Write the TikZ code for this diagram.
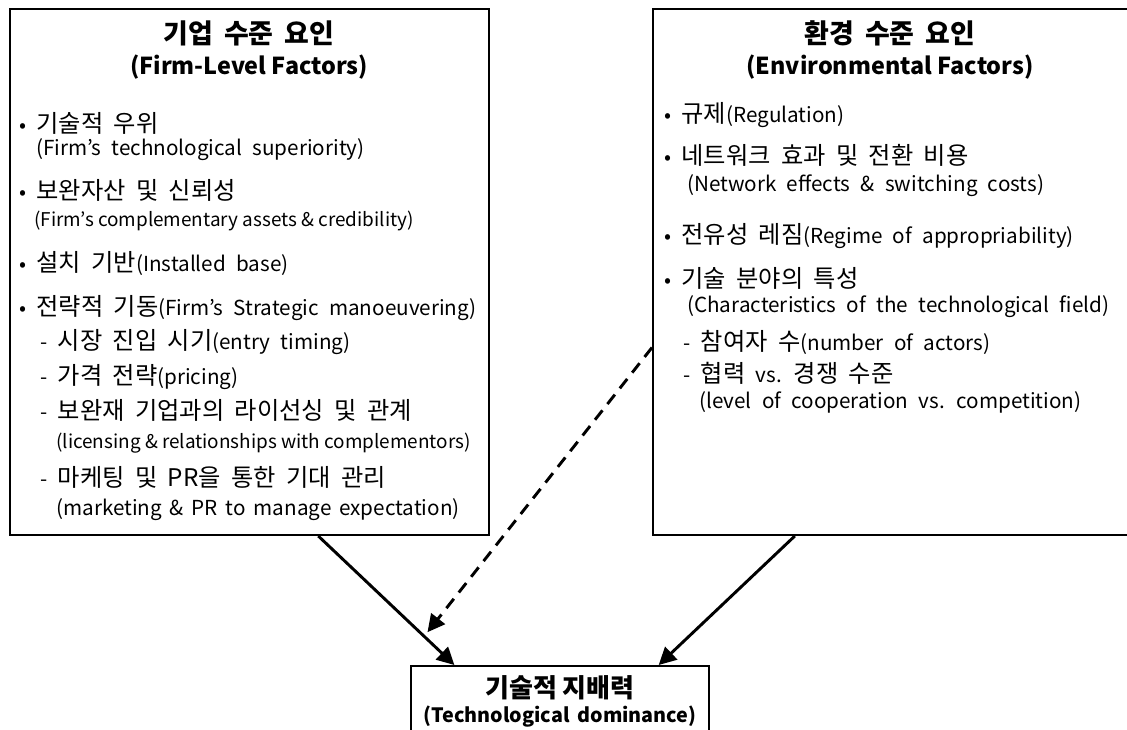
\documentclass[tikz,border=0pt]{standalone}
\usepackage{fontspec}
\setmainfont{Noto Sans CJK KR}
\usetikzlibrary{arrows.meta,fit,calc}
\newcommand\kr[1]{{\fontsize{18.2}{20}\selectfont #1}}
\newcommand\widesp{\spaceskip=0.5em plus 0.1em\relax}
\newcommand\midsp{\spaceskip=0.38em\relax}
\newcommand\ttlsp{\spaceskip=0.4em\relax}
\begin{document}
\begin{tikzpicture}[x=0.75pt,y=-0.75pt,
      box/.style={draw,line width=1.5pt,inner sep=0pt},
      ttlk/.style={inner sep=0pt,font=\fontsize{20.2}{24}\selectfont\bfseries\ttlsp},
      ttl/.style={inner sep=0pt,font=\fontsize{17.5}{21}\selectfont\bfseries},
      itm/.style={anchor=west,inner sep=0pt,font=\fontsize{15.5}{19}\selectfont\widesp},
      nar/.style={anchor=west,inner sep=0pt,font=\fontsize{14.2}{18}\selectfont},
      arr/.style={-{Triangle[length=13pt,width=13pt]},line width=2.2pt}]
    \useasboundingbox (0,0) rectangle (1127,729);
    % boxes
    \node[box,fit={(10,9) (489,535)}] (firm) {};
    \node[box,fit={(653,9) (1140,535)}] (env) {};
    \node[box,fit={(411,666) (709,760)}] (dom) {};
    % firm-level factors
    \node[ttlk] (firmt1) at (249,33) {기업 수준 요인};
    \node[ttl] (firmt2) at (249,67) {(Firm-Level Factors)};
    \node[itm] (f1) at (19,123) {• \kr{기술적 우위}};
    \node[itm] (f1e) at (36,150) {(Firm’s technological superiority)};
    \node[itm] (f2) at (19,190) {• \kr{보완자산 및 신뢰성}};
    \node[nar] (f2e) at (34,221) {(Firm’s complementary assets \& credibility)};
    \node[itm] (f3) at (19,263) {• \kr{설치 기반}(Installed base)};
    \node[itm] (f4) at (19,308) {• \kr{전략적 기동}(Firm’s Strategic manoeuvering)};
    \node[itm] (f4a) at (40,342) {- \kr{시장 진입 시기}(entry timing)};
    \node[itm] (f4b) at (40,377) {- \kr{가격 전략}(pricing)};
    \node[itm] (f4c) at (40,410) {- \kr{보완재 기업과의 라이선싱 및 관계}};
    \node[nar] (f4ce) at (56,443) {(licensing \& relationships with complementors)};
    \node[itm] (f4d) at (40,477) {- \kr{마케팅 및 PR을 통한 기대 관리}};
    \node[itm,font=\fontsize{15.5}{19}\selectfont\midsp] (f4de) at (56,510) {(marketing \& PR to manage expectation)};
    % environmental factors
    \node[ttlk] (envt1) at (890,33) {환경 수준 요인};
    \node[ttl] (envt2) at (890,67) {(Environmental Factors)};
    \node[itm] (e1) at (664,115) {• \kr{규제}(Regulation)};
    \node[itm] (e2) at (664,155) {• \kr{네트워크 효과 및 전환 비용}};
    \node[itm] (e2e) at (687,186) {(Network effects \& switching costs)};
    \node[itm] (e3) at (664,236) {• \kr{전유성 레짐}(Regime of appropriability)};
    \node[itm] (e4) at (664,278) {• \kr{기술 분야의 특성}};
    \node[itm] (e4e) at (687,307) {(Characteristics of the technological field)};
    \node[itm] (e4a) at (683,342) {- \kr{참여자 수}(number of actors)};
    \node[itm] (e4b) at (683,373) {- \kr{협력} vs. \kr{경쟁 수준}};
    \node[itm] (e4be) at (699,402) {(level of cooperation vs. competition)};
    % technological dominance
    \node[ttlk,font=\fontsize{19.5}{22}\selectfont\bfseries] (domt1) at (560,688) {기술적 지배력};
    \node[ttl,font=\fontsize{14.8}{18}\selectfont\bfseries\ttlsp] (domt2) at (560,717) {(Technological dominance)};
    % connectors
    \draw[arr] ($(firm.south west)!0.643!(firm.south east)$)
      -- coordinate[pos=0.778] (mod) ($(dom.north west)!0.148!(dom.north east)$);
    \draw[arr] ($(env.south west)!0.292!(env.south east)$)
      -- ($(dom.north west)!0.829!(dom.north east)$);
    \draw[arr,dash pattern=on 9pt off 6pt,shorten >=4pt]
      ($(env.north west)!0.643!(env.south west)$) -- (mod);
\end{tikzpicture}
\end{document}
